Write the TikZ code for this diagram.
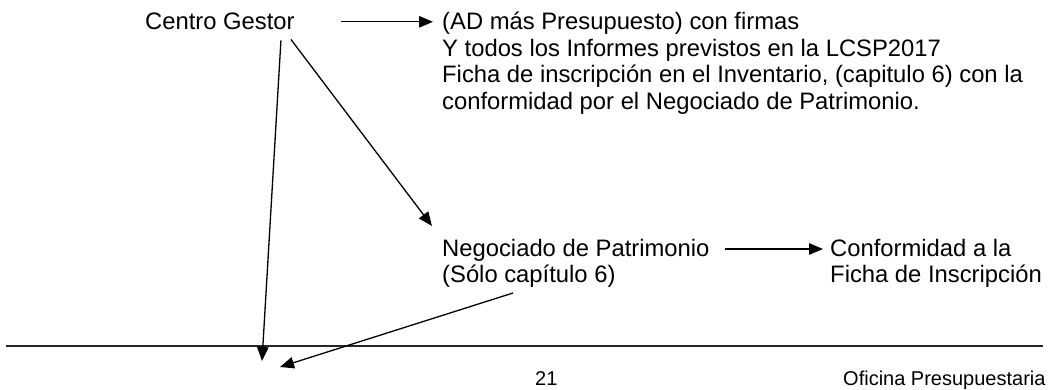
\documentclass[tikz,border=0pt]{standalone}
\usepackage{fontspec}
\setmainfont{Liberation Sans}
\usetikzlibrary{arrows.meta,calc}

\tikzset{
  txt/.style={inner sep=0pt,anchor=base west,align=left,
    font=\fontsize{23.8}{26.5}\selectfont},
  pie/.style={inner sep=0pt,anchor=base west,font=\fontsize{20}{24}\selectfont},
  arr/.style={line width=1.3pt,-{Triangle[length=14pt,width=11.5pt]}},
  regla/.style={line width=1.5pt,black!85}
}

\begin{document}
\begin{tikzpicture}[x=1pt,y=-1pt]
    \useasboundingbox (0,0) rectangle (1054,390);
    % textos (base = ultima linea)
    \node[txt] (centro) at (145,30) {Centro Gestor};
    \node[txt] (ad) at (442,109.5) {(AD más Presupuesto) con firmas\\
      Y todos los Informes previstos en la LCSP2017\\
      Ficha de inscripción en el Inventario, (capitulo 6) con la\\
      conformidad por el Negociado de Patrimonio.};
    \node[txt] (negociado) at (442,282.5) {Negociado de Patrimonio\\(Sólo capítulo 6)};
    \node[txt] (conformidad) at (830,282.5) {Conformidad a la\\Ficha de Inscripción};
    \node[pie] (pag) at (535,385) {21};
    \node[pie] (oficina) at (843,385) {Oficina Presupuestaria};
    % pie de pagina
    \coordinate (reglaL) at (6,346);
    \coordinate (reglaR) at (1043,346);
    \coordinate (finA) at (262,361);
    \coordinate (finB) at (280,367);
    \draw[regla] (reglaL) -- (reglaR);
    % flechas
    \draw[arr] ([xshift=46]centro.east) -- ($(centro.east -| ad.west)+(-9,0)$);
    \draw[arr] ([shift={(61,10)}]centro.south) -- (finA);
    \draw[arr] ([shift={(71,9)}]centro.south) -- ($(negociado.base west)+(-10,-56.5)$);
    \draw[arr] ($(negociado.base west)+(283,-33.5)$) -- ($(conformidad.base west)+(-7,-33.5)$);
    \draw[arr] ($(negociado.base west)+(71,10.5)$) -- (finB);
  \end{tikzpicture}
\end{document}
